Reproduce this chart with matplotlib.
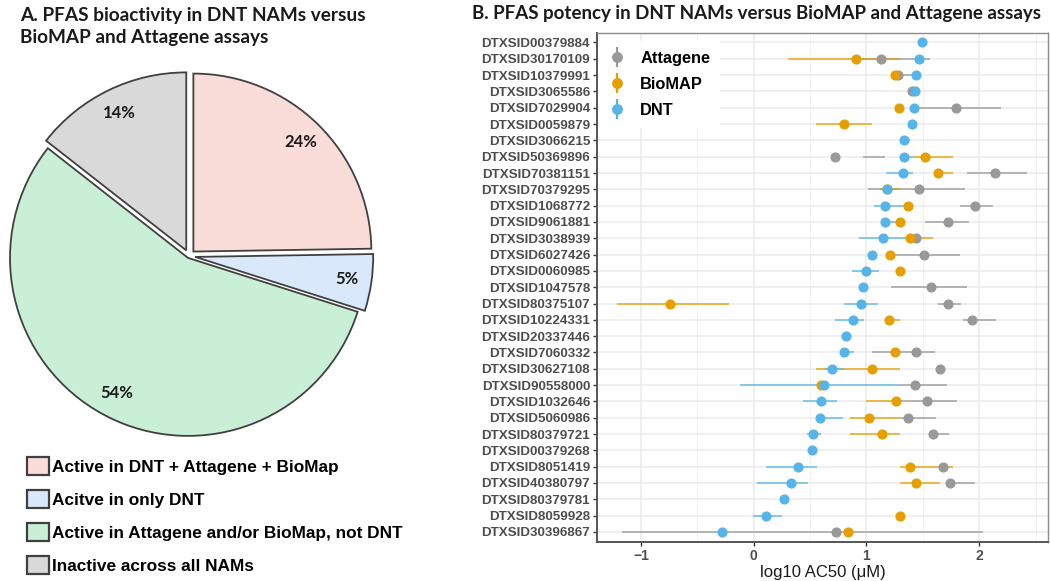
import matplotlib
matplotlib.use("Agg")
import matplotlib.pyplot as plt
import numpy as np
from matplotlib.lines import Line2D
from matplotlib.patches import Patch
from matplotlib.legend_handler import HandlerTuple

nan = np.nan

# ---------------- Panel A data ----------------
pie_labels = ["Active in DNT + Attagene + BioMap",
              "Acitve in only DNT",
              "Active in Attagene and/or BioMap, not DNT",
              "Inactive across all NAMs"]
pie_pct = [24, 5, 54, 14]
pie_colors = ["#FADCD9", "#DAE8FC", "#C9F0D6", "#D9D9D9"]

# ---------------- Panel B data ----------------
chemicals = ["DTXSID00379884", "DTXSID30170109", "DTXSID10379991", "DTXSID3065586",
             "DTXSID7029904", "DTXSID0059879", "DTXSID3066215", "DTXSID50369896",
             "DTXSID70381151", "DTXSID70379295", "DTXSID1068772", "DTXSID9061881",
             "DTXSID3038939", "DTXSID6027426", "DTXSID0060985", "DTXSID1047578",
             "DTXSID80375107", "DTXSID10224331", "DTXSID20337446", "DTXSID7060332",
             "DTXSID30627108", "DTXSID90558000", "DTXSID1032646", "DTXSID5060986",
             "DTXSID80379721", "DTXSID00379268", "DTXSID8051419", "DTXSID40380797",
             "DTXSID80379781", "DTXSID8059928", "DTXSID30396867"]

dnt_ac50 = [1.49, 1.47, 1.44, 1.43, 1.42, 1.40, 1.33, 1.33, 1.32, 1.18, 1.16,
            1.16, 1.15, 1.05, 1.00, 0.97, 0.95, 0.88, 0.82, 0.80, 0.69, 0.62,
            0.60, 0.59, 0.53, 0.52, 0.39, 0.33, 0.27, 0.11, -0.28]
dnt_lo = [nan, nan, nan, nan, nan, nan, 1.30, 1.30, 1.17, 1.13, 1.07,
          1.16, 0.93, nan, 0.87, nan, 0.80, 0.72, nan, 0.80, 0.63, -0.12,
          0.44, 0.55, 0.47, nan, 0.11, 0.03, nan, -0.01, nan]
dnt_hi = [nan, nan, nan, nan, nan, nan, 1.39, 1.42, 1.41, 1.24, 1.34,
          1.30, 1.39, nan, 1.11, nan, 1.10, 0.98, nan, 0.89, 0.80, 1.30,
          0.74, 0.79, 0.60, nan, 0.56, 0.48, nan, 0.25, nan]

bio_ac50 = [nan, 0.91, 1.25, nan, 1.29, 0.80, nan, 1.52, 1.63, 1.18, 1.37,
            1.30, 1.39, 1.21, 1.30, nan, -0.74, 1.20, nan, 1.25, 1.05, 0.60,
            1.26, 1.02, 1.14, nan, 1.39, 1.44, nan, 1.30, 0.84]
bio_lo = [nan, 0.30, nan, nan, nan, 0.55, nan, 1.42, 1.63, 1.12, nan,
          nan, 1.39, nan, nan, nan, -1.21, 1.20, nan, nan, 0.55, nan,
          1.00, 0.85, 0.85, nan, 1.30, 1.30, nan, nan, nan]
bio_hi = [nan, 1.30, nan, nan, nan, 1.05, nan, 1.77, 1.77, 1.30, nan,
          nan, 1.59, nan, nan, nan, -0.22, 1.30, nan, nan, 1.30, nan,
          1.30, 1.30, 1.30, nan, 1.77, 1.65, nan, nan, nan]

att_ac50 = [nan, 1.13, 1.28, 1.40, 1.79, nan, nan, 0.72, 2.14, 1.47, 1.96,
            1.72, 1.44, 1.51, nan, 1.57, 1.72, 1.94, nan, 1.44, 1.65, 1.43,
            1.54, 1.37, 1.59, nan, 1.68, 1.74, nan, nan, 0.73]
att_lo = [nan, 0.95, 1.28, nan, 1.42, nan, nan, 0.97, 1.89, 1.01, 1.83,
          1.52, nan, 1.21, nan, 1.22, 1.63, 1.86, nan, 1.05, nan, 1.30,
          1.26, 1.30, 1.59, nan, nan, 1.74, nan, nan, -1.17]
att_hi = [nan, 1.56, 1.40, nan, 2.19, nan, nan, 1.16, 2.42, 1.87, 2.12,
          1.91, nan, 1.83, nan, 1.89, 1.84, 2.15, nan, 1.61, nan, 1.71,
          1.80, 1.62, 1.73, nan, nan, 1.96, nan, nan, 2.03]

assays = ["Attagene", "BioMAP", "DNT"]
assay_colors = {"Attagene": "#999999", "BioMAP": "#E69F00", "DNT": "#56B4E9"}
assay_data = {"Attagene": (att_ac50, att_lo, att_hi),
              "BioMAP": (bio_ac50, bio_lo, bio_hi),
              "DNT": (dnt_ac50, dnt_lo, dnt_hi)}

title_font = "Lato"
arial = "Liberation Sans"

fig = plt.figure(figsize=(10.5, 5.81), dpi=100)

# ---------------- Panel A: pie ----------------
W, H = 1050, 581
cx, cy, R = 189, 256, 178
half = 200
axp = fig.add_axes([(cx - half) / W, (H - cy - half) / H, 2 * half / W, 2 * half / H])
wedges, texts, autotexts = axp.pie(
    pie_pct, colors=pie_colors, startangle=90, counterclock=False,
    explode=[0.035, 0.035, 0.012, 0.035], radius=1.0,
    autopct=lambda p: "", pctdistance=0.86,
    wedgeprops=dict(edgecolor="#404040", linewidth=1.3))
for t, v in zip(autotexts, pie_pct):
    t.set_text(f"{v}%")
    t.set_fontfamily(title_font)
    t.set_fontweight("bold")
    t.set_fontsize(12)
    t.set_color("#1a1a1a")
lim = half / R
axp.set_xlim(-lim, lim)
axp.set_ylim(-lim, lim)
axp.set_aspect("equal")
axp.axis("off")

fig.text(20 / W, 1 - 26.5 / H,
         "A. PFAS bioactivity in DNT NAMs versus\nBioMAP and Attagene assays",
         ha="left", va="center", fontsize=13.7, fontweight="bold",
         fontfamily=title_font, linespacing=1.38, color="#1a1a1a")

pie_handles = [Patch(facecolor=c, edgecolor="#404040", linewidth=1.6) for c in pie_colors]
fig.legend(pie_handles, pie_labels, loc="upper left",
           bbox_to_anchor=(27 / W, 1 - 457 / H), frameon=False,
           prop=dict(family=arial, weight="bold", size=12.4),
           handlelength=1.25, handleheight=1.25, handletextpad=0.2,
           labelspacing=0.86, borderpad=0, borderaxespad=0)

# ---------------- Panel B: point ranges ----------------
ax_h = 541.7 - 32.7
ax = fig.add_axes([597 / W, (H - 541.7) / H, (1048 - 597) / W, ax_h / H])
y = np.arange(len(chemicals))

for a in assays:
    v, lo, hi = assay_data[a]
    ax.hlines(y, lo, hi, color=assay_colors[a], alpha=0.75, linewidth=1.3, zorder=3)
handles = []
for a in assays:
    v, lo, hi = assay_data[a]
    ax.plot(v, y, linestyle="none", marker="o", markersize=6.3,
            color=assay_colors[a], zorder=4)
    h_line = Line2D([], [], linestyle="none", marker="|", markersize=14,
                    markeredgewidth=1.6, color=assay_colors[a])
    h_pt = Line2D([], [], linestyle="none", marker="o", markersize=6.8,
                  color=assay_colors[a])
    handles.append((h_line, h_pt))

ax.set_ylim(len(chemicals) - 0.4, -0.6)
ax.set_xlim(-1.39, 2.61)
ax.set_yticks(y)
ax.set_yticklabels(chemicals)
ax.set_xticks([-1, 0, 1, 2])
ax.set_xticks([-0.5, 0.5, 1.5, 2.5], minor=True)
ax.grid(True, which="major", axis="both", color="#EBEBEB", linewidth=1.1, zorder=0)
ax.grid(True, which="minor", axis="x", color="#F3F3F3", linewidth=0.7, zorder=0)
ax.set_axisbelow(True)
for lab in ax.get_yticklabels():
    lab.set_fontfamily(arial)
    lab.set_fontweight("bold")
    lab.set_fontsize(9.6)
    lab.set_color("#4D4D4D")
for lab in ax.get_xticklabels():
    lab.set_fontfamily(arial)
    lab.set_fontweight("bold")
    lab.set_fontsize(10)
    lab.set_color("#4D4D4D")
ax.tick_params(axis="both", which="major", length=3, width=1, color="#333333", pad=2)
ax.tick_params(axis="x", which="minor", length=0)
for s in ["top", "right"]:
    ax.spines[s].set_color("#8C8C8C")
    ax.spines[s].set_linewidth(1.0)
for s in ["left", "bottom"]:
    ax.spines[s].set_color("#555555")
    ax.spines[s].set_linewidth(1.4)
ax.set_xlabel("log10 AC50 (μM)", fontfamily=arial, fontsize=12, color="#1a1a1a", labelpad=2)

leg = ax.legend(handles, assays, handler_map={tuple: HandlerTuple(ndivide=1)},
                loc="upper left", bbox_to_anchor=(0.5 / 451, 1 - 8.5 / ax_h),
                borderaxespad=0,
                frameon=True, fancybox=False, framealpha=1, edgecolor="white",
                prop=dict(family=arial, weight="bold", size=11.8),
                handlelength=1.2, handletextpad=0.8, labelspacing=0.66,
                borderpad=0.6)
leg.get_frame().set_linewidth(0)

fig.text(472 / W, 1 - 14 / H,
         "B. PFAS potency in DNT NAMs versus BioMAP and Attagene assays",
         ha="left", va="center", fontsize=13.5, fontweight="bold",
         fontfamily=title_font, color="#1a1a1a")

fig.savefig("out.png", dpi=100, facecolor="white")
